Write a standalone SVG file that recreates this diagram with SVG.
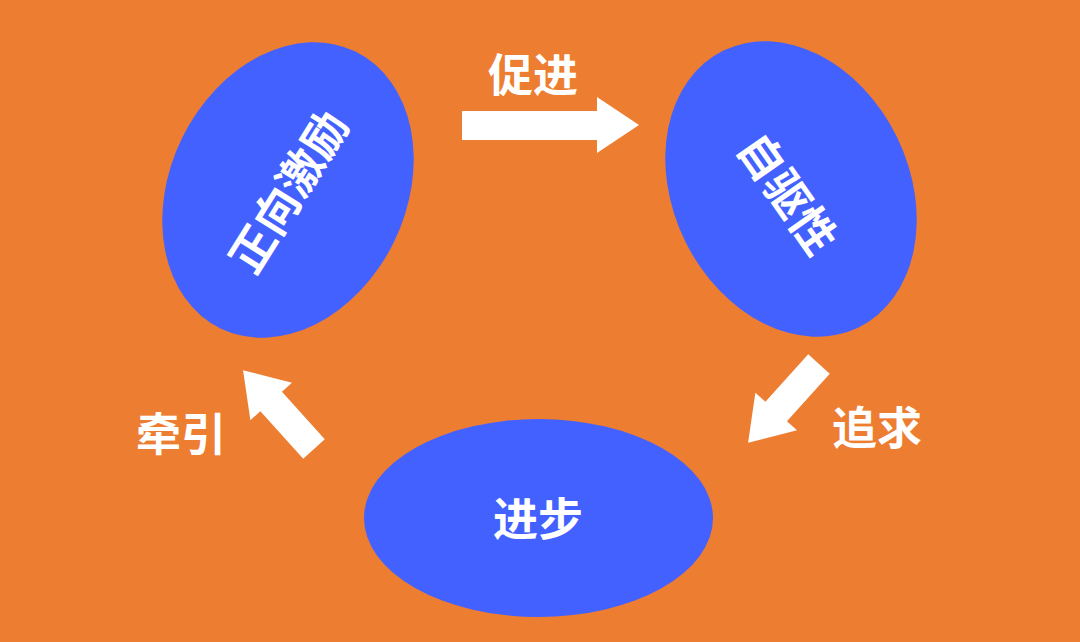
<svg xmlns="http://www.w3.org/2000/svg" width="1080" height="642" viewBox="0 0 1080 642">
<defs>
<style>
.bg{fill:#ED7D31}
.node{fill:#4361FF}
.arrow{fill:#FFFFFF}
.t{fill:#FFFFFF;font-family:"Noto Sans CJK SC","Noto Sans",sans-serif;font-weight:bold;font-size:45px;text-anchor:middle;dominant-baseline:central}
</style>
<path id="arr" d="M0 -14.5 H64 V-28 L106 0 L64 28 V14.5 H0 Z"/>
</defs>
<rect class="bg" x="0" y="0" width="1080" height="642"/>
<g id="node-zhengxiang">
<ellipse class="node" cx="0" cy="0" rx="154" ry="118" transform="translate(288 190) rotate(-64)"/>
<text class="t" transform="translate(286 190) rotate(-58)">正向激励</text>
</g>
<g id="node-ziqu">
<ellipse class="node" cx="0" cy="0" rx="154" ry="118" transform="translate(791 189) rotate(64)"/>
<text class="t" transform="translate(790 192) rotate(55)">自驱性</text>
</g>
<g id="node-jinbu">
<ellipse class="node" cx="538.5" cy="518" rx="174.5" ry="99"/>
<text class="t" x="538" y="516">进步</text>
</g>
<g id="connectors">
<path class="arrow" d="M462 111 H597 V97 L639 125 L597 153 V140 H462 Z"/>
<use class="arrow" href="#arr" transform="translate(819 364) rotate(132)"/>
<use class="arrow" href="#arr" transform="translate(314 449) rotate(-132)"/>
<text class="t" x="533" y="72">促进</text>
<text class="t" x="877" y="425">追求</text>
<text class="t" x="181" y="431">牵引</text>
</g>
</svg>
